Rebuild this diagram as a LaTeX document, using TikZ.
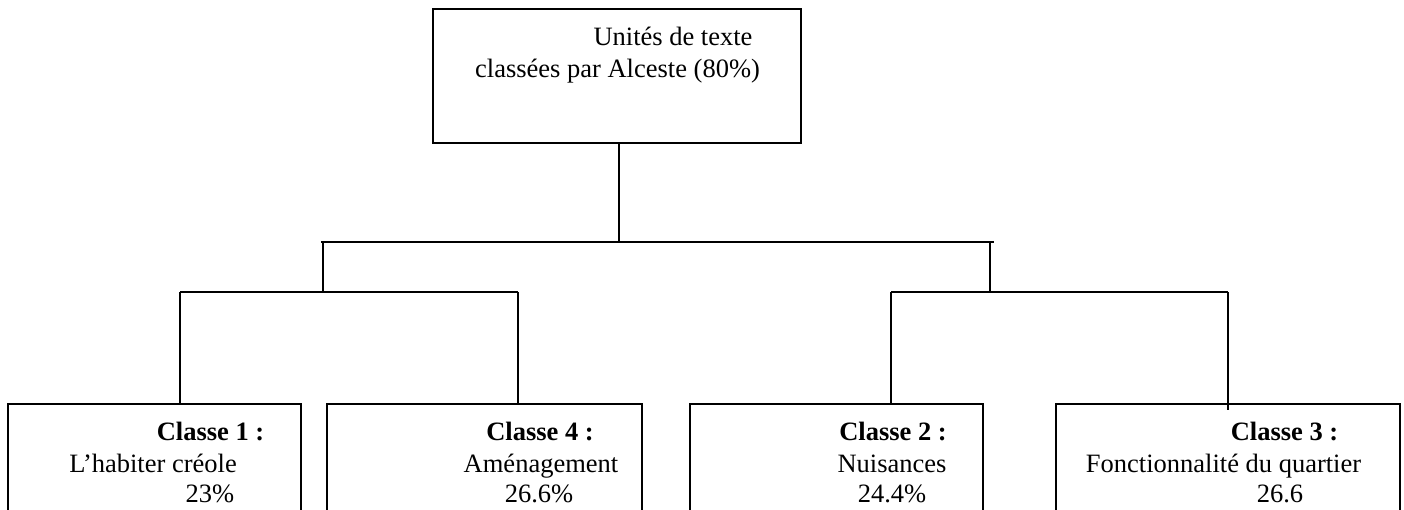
\documentclass[tikz,border=0pt]{standalone}
\usepackage{fontspec}
\setmainfont{Liberation Serif}

\begin{document}
\begin{tikzpicture}[x=1pt, y=-1pt, line width=1.6pt,
    every node/.style={font=\fontsize{26.5}{31.5}\selectfont},
    box/.style={draw, rectangle, inner sep=0pt, outer sep=0pt},
    txt/.style={anchor=base, inner sep=0pt}]
  \useasboundingbox (0,0) rectangle (1404,509);
  \clip (0,0) rectangle (1404,509);
  \node [box, minimum width=368pt, minimum height=134pt] (root) at (617,76) {};
  \node [txt] (root1) at (673,45) {Unités de texte};
  \node [txt] (root2) at (617.5,77) {classées par Alceste (80\%)};
  \node [box, minimum width=293pt, minimum height=126pt] (c1) at (154.5,467) {};
  \node [box, minimum width=315pt, minimum height=126pt] (c4) at (484.5,467) {};
  \node [box, minimum width=293pt, minimum height=126pt] (c2) at (836.5,467) {};
  \node [box, minimum width=344pt, minimum height=126pt] (c3) at (1228,467) {};
  \node [txt] (c1a) at (210.5,440) {\textbf{Classe 1 :}};
  \node [txt] (c1b) at (153,472) {L’habiter créole};
  \node [txt] (c1c) at (210,502) {23\%};
  \node [txt] (c4a) at (540,440) {\textbf{Classe 4 :}};
  \node [txt] (c4b) at (541,472) {Aménagement};
  \node [txt] (c4c) at (539,502) {26.6\%};
  \node [txt] (c2a) at (893,440) {\textbf{Classe 2 :}};
  \node [txt] (c2b) at (892,472) {Nuisances};
  \node [txt] (c2c) at (892,502) {24.4\%};
  \node [txt] (c3a) at (1284.5,440) {\textbf{Classe 3 :}};
  \node [txt] (c3b) at (1223.5,472) {Fonctionnalité du quartier};
  \node [txt] (c3c) at (1280,502) {26.6};
  \coordinate (j0) at (619,242);
  \coordinate (jl) at (323,242);
  \coordinate (jr) at (990,242);
  \coordinate (jl1) at (180,292);
  \coordinate (jl4) at (518,292);
  \coordinate (jr2) at (891,292);
  \coordinate (jr3) at (1228,292);
  \draw (root.south -| j0) -- (j0);
  \draw ([xshift=-2pt]jl) -- ([xshift=4pt]jr);
  \draw (jl) -- (jl |- jl1);
  \draw (jr) -- (jr |- jr2);
  \draw (jl1) -- (jl4);
  \draw (jr2) -- (jr3);
  \draw (jl1) -- (jl1 |- c1.north);
  \draw (jl4) -- (jl4 |- c4.north);
  \draw (jr2) -- (jr2 |- c2.north);
  \draw (jr3) -- ([yshift=-6pt]jr3 |- c3.north);
\end{tikzpicture}
\end{document}
